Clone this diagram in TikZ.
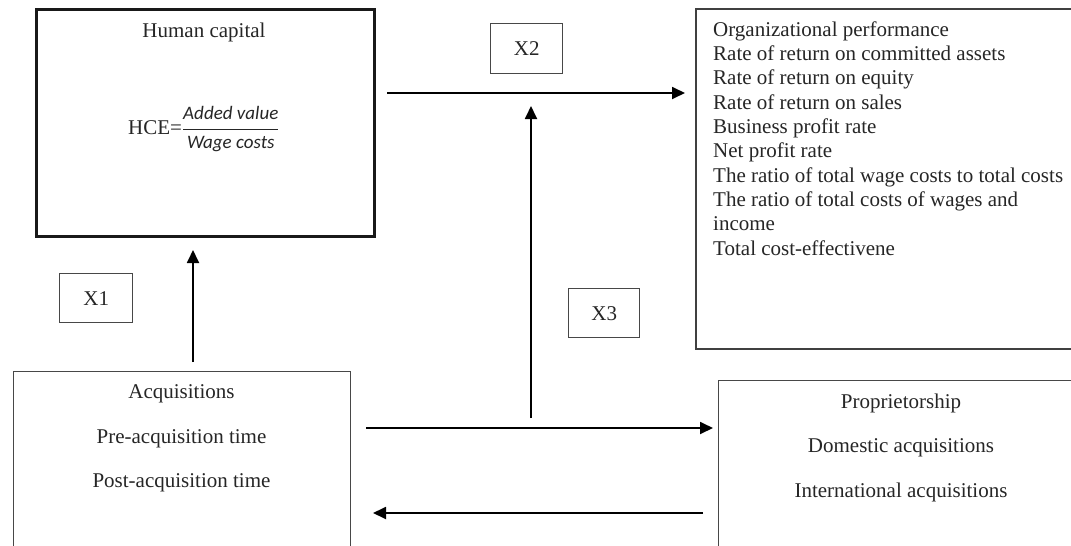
\documentclass[tikz,border=0pt]{standalone}
\usepackage{fontspec}
\setmainfont{Liberation Serif}
\newfontfamily\fracfont{Carlito}
\usetikzlibrary{arrows.meta}
\tikzset{
  frame/.style={draw=black!72,line width=1.4pt,inner sep=0pt,anchor=north west},
  heavy/.style={draw=black!90,line width=2.8pt,inner sep=0pt,anchor=north west},
  midframe/.style={draw=black!75,line width=2pt,inner sep=0pt,anchor=north west},
  txt/.style={font=\fontsize{21}{24}\selectfont,text=black!85,inner sep=0pt},
  arr/.style={draw=black,line width=1.8pt,-{Triangle[length=13pt,width=12pt]}},
}
\begin{document}
\begin{tikzpicture}[x=1pt,y=-1pt]
\useasboundingbox (0,0) rectangle (1071,546);
\fill[white] (0,0) rectangle (1071,546);
\clip (0,0) rectangle (1071,546);

% boxes
\node[heavy,minimum width=338pt,minimum height=227pt] (hc) at (35,8) {};
\node[frame,txt,minimum width=73pt,minimum height=49pt] (x1) at (59,273) {X1};
\node[frame,minimum width=337pt,minimum height=185pt] (acq) at (13,371) {};
\node[frame,txt,minimum width=72pt,minimum height=50pt] (x2) at (490,23) {X2};
\node[frame,txt,minimum width=71pt,minimum height=49pt] (x3) at (568,288) {X3};
\node[midframe,minimum width=400pt,minimum height=340pt] (org) at (695,8) {};
\node[frame,minimum width=400pt,minimum height=185pt] (prop) at (718,380) {};

% human capital text
\node[txt,anchor=base] (hct) at (204,37) {Human capital};
\node[txt,anchor=base west] (hce) at (128,134)
  {HCE=$\displaystyle\frac{\mbox{\fracfont\itshape\fontsize{19}{19}\selectfont Added value}}{\mbox{\fracfont\itshape\fontsize{19}{19}\selectfont Wage costs}}$};

% organizational performance list
\foreach \t [count=\i from 0] in {Organizational performance,
  Rate of return on committed assets,
  Rate of return on equity,
  Rate of return on sales,
  Business profit rate,
  Net profit rate,
  The ratio of total wage costs to total costs,
  The ratio of total costs of wages and,
  income,
  Total cost-effectivene}
  \node[txt,anchor=base west] (org\i) at (713,36+24.36*\i) {\t};

% acquisitions text
\node[txt,anchor=base] (acq1) at (181.5,398) {Acquisitions};
\node[txt,anchor=base] (acq2) at (181.5,443) {Pre-acquisition time};
\node[txt,anchor=base] (acq3) at (181.5,487) {Post-acquisition time};

% proprietorship text
\node[txt,anchor=base] (pr1) at (901,408) {Proprietorship};
\node[txt,anchor=base] (pr2) at (901,452.5) {Domestic acquisitions};
\node[txt,anchor=base] (pr3) at (901,497) {International acquisitions};

% arrow end points
\coordinate (a1s) at (193,362);
\coordinate (a1e) at (193,250);
\coordinate (a2s) at (387,93);
\coordinate (a2e) at (685,93);
\coordinate (a3s) at (531,418);
\coordinate (a3e) at (531,106);
\coordinate (a4s) at (366,428);
\coordinate (a4e) at (713,428);
\coordinate (a5s) at (703,513);
\coordinate (a5e) at (373,513);

\draw[arr] (a1s) -- (a1e);
\draw[arr] (a2s) -- (a2e);
\draw[arr] (a3s) -- (a3e);
\draw[arr] (a4s) -- (a4e);
\draw[arr] (a5s) -- (a5e);
\end{tikzpicture}
\end{document}
